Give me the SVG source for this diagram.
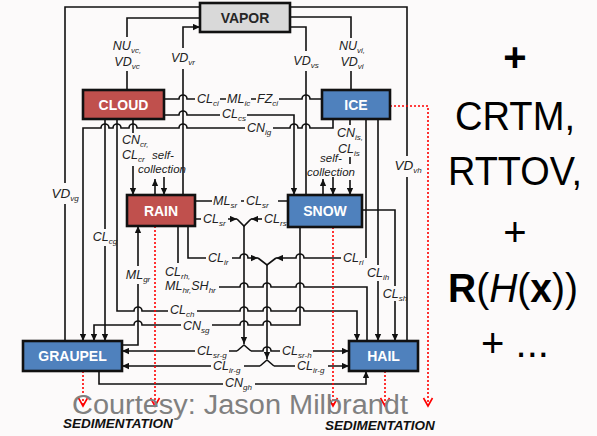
<svg xmlns="http://www.w3.org/2000/svg" width="597" height="436" viewBox="0 0 597 436">
<defs>
<marker id="ar" viewBox="0 0 10 10" refX="10" refY="5" markerWidth="8" markerHeight="7" markerUnits="userSpaceOnUse" orient="auto"><path d="M0,0.5 L10,5 L0,9.5 Z" fill="#111"/></marker>
</defs>
<style>
.c{fill:none;stroke:#111;stroke-width:1.6}
.r{fill:none;stroke:#f00;stroke-width:1.6;stroke-dasharray:2 2}
.rv{fill:none;stroke:#f00;stroke-width:1.6}
.box{stroke:#111;stroke-width:2.6}
.nt{font-family:"Liberation Sans",Arial,sans-serif;font-weight:bold;font-size:14px;fill:#fff;text-anchor:middle}
.lb{font-family:"Liberation Sans",Arial,sans-serif;font-style:italic;font-size:12.5px;fill:#222}
.s{font-size:8px}
.m{text-anchor:middle}
.sed{font-family:"Liberation Sans",Arial,sans-serif;font-style:italic;font-weight:bold;font-size:13.5px;fill:#111}
.big{font-family:"Liberation Sans",Arial,sans-serif;font-size:40px;fill:#000;text-anchor:middle}
</style>
<rect width="597" height="436" fill="#fcfafa"/>

<g id="connectors">
<path class="c" d="M65,341 V204 M65,183 V7 H200"/>
<path class="c" d="M127,90 V71 M127,37 V18 H200"/>
<path class="c" d="M183,195 V69 M183,48 V27 H200" marker-end="url(#ar)"/>
<path class="c" d="M290,7 H407 V156 M407,177 V341"/>
<path class="c" d="M290,17 H351 V38 M351,71 V90"/>
<path class="c" d="M290,27 H306 V51 M306,71 V195"/>
<path class="c" d="M164,99 H179 A4,4 0 0 1 187,99 H195 M220,99 H226 M251,99 H256 M279,99 H302 A4,4 0 0 1 310,99 H322"/>
<path class="c" d="M164,115 H179 A4,4 0 0 1 187,115 H220 M247,115 H294 V195" marker-end="url(#ar)"/>
<path class="c" d="M333,119 V128 H310 A4,4 0 0 0 302,128 H298 A4,4 0 0 0 290,128 H273 M245,128 H187 A4,4 0 0 0 179,128 H137 A4,4 0 0 0 129,128 H121 A4,4 0 0 0 113,128 H109 A4,4 0 0 0 101,128 H83 V341" marker-end="url(#ar)"/>
<path class="c" d="M105,119 V229 M105,246 V341" marker-end="url(#ar)"/>
<path class="c" d="M117,119 V311 H134 A4,4 0 0 1 142,311 H168 M197,311 H240 A4,4 0 0 1 248,311 H263 A4,4 0 0 1 271,311 H296 A4,4 0 0 1 304,311 H357 V341" marker-end="url(#ar)"/>
<path class="c" d="M133,119 V133 M133,166 V195" marker-end="url(#ar)"/>
<path class="c" d="M155,195 V179" marker-end="url(#ar)"/>
<path class="c" d="M164,177 V195" marker-end="url(#ar)"/>
<path class="c" d="M323,195 V179" marker-end="url(#ar)"/>
<path class="c" d="M333,177 V195" marker-end="url(#ar)"/>
<path class="c" d="M350,119 V125 M350,157 V164 M350,180 V195" marker-end="url(#ar)"/>
<path class="c" d="M195,201 H212 M241,201 H244 M278,201 H288"/>
<path class="c" d="M195,219 H201 M228,219 H237" marker-end="url(#ar)"/>
<path class="c" d="M262,219 H251" marker-end="url(#ar)"/>
<path class="c" d="M237,219 L244,226 L251,219"/>
<path class="c" d="M244,226 V344" marker-end="url(#ar)"/>
<path class="c" d="M237,351 L244,345 L251,351"/>
<path class="c" d="M237,351 H229 M195,351 H122" marker-end="url(#ar)"/>
<path class="c" d="M251,351 H263 A4,4 0 0 1 271,351 H280 M313,351 H349" marker-end="url(#ar)"/>
<path class="c" d="M188,226 V258 H206 M232,258 H240 A4,4 0 0 1 248,258 H258" marker-end="url(#ar)"/>
<path class="c" d="M366,119 V258"/>
<path class="c" d="M341,258 H304 A4,4 0 0 0 296,258 H276" marker-end="url(#ar)"/>
<path class="c" d="M258,258 L267,265 L276,258"/>
<path class="c" d="M267,265 V359" marker-end="url(#ar)"/>
<path class="c" d="M260,366 L267,360 L274,366"/>
<path class="c" d="M260,366 H244 M211,366 H122" marker-end="url(#ar)"/>
<path class="c" d="M274,366 H295 M328,366 H349" marker-end="url(#ar)"/>
<path class="c" d="M178,226 V263 M219,287 H240 A4,4 0 0 1 248,287 H263 A4,4 0 0 1 271,287 H296 A4,4 0 0 1 304,287 H367 V341"/>
<path class="c" d="M122,345 H138 V284 M138,266 V226" marker-end="url(#ar)"/>
<path class="c" d="M300,227 V325 H271 A4,4 0 0 0 263,325 H248 A4,4 0 0 0 240,325 H212 M181,325 H142 A4,4 0 0 0 134,325 H94 V341" marker-end="url(#ar)"/>
<path class="c" d="M378,119 V265 M378,281 V341" marker-end="url(#ar)"/>
<path class="c" d="M362,210 H395 V286 M395,301 V341" marker-end="url(#ar)"/>
<path class="c" d="M99,371 V384 H223 M255,384 H366 V371" marker-end="url(#ar)"/>
<path class="r" d="M390,106 H428 V405"/>
<path class="r" d="M155,226 V405"/>
<path class="r" d="M83,371 V405"/>
<path class="r" d="M333,227 V405"/>
<path class="r" d="M385,371 V405"/>
<path class="rv" d="M423.5,398 L428,406 L432.5,398 M150.5,398 L155,406 L159.5,398 M78.5,398 L83,406 L87.5,398 M328.5,398 L333,406 L337.5,398 M380.5,398 L385,406 L389.5,398"/>
</g>

<g id="labels">
<text class="lb m" x="127" y="50">NU<tspan class="s" dy="3">vc,</tspan></text>
<text class="lb m" x="127" y="66">VD<tspan class="s" dy="3">vc</tspan></text>
<text class="lb m" x="183" y="62">VD<tspan class="s" dy="3">vr</tspan></text>
<text class="lb m" x="306" y="65">VD<tspan class="s" dy="3">vs</tspan></text>
<text class="lb m" x="352" y="50">NU<tspan class="s" dy="3">vi,</tspan></text>
<text class="lb m" x="352" y="66">VD<tspan class="s" dy="3">vi</tspan></text>
<text class="lb m" x="408" y="170" style="font-size:13.5px">VD<tspan class="s" dy="3">vh</tspan></text>
<text class="lb m" x="65" y="198" style="font-size:13.5px">VD<tspan class="s" dy="3">vg</tspan></text>
<text class="lb" x="197" y="103">CL<tspan class="s" dy="3">ci</tspan></text>
<text class="lb" x="227" y="103">ML<tspan class="s" dy="3">ic</tspan></text>
<text class="lb" x="257" y="103">FZ<tspan class="s" dy="3">ci</tspan></text>
<text class="lb" x="222" y="118">CL<tspan class="s" dy="3">cs</tspan></text>
<text class="lb" x="247" y="132">CN<tspan class="s" dy="3">ig</tspan></text>
<text class="lb" x="122" y="144">CN<tspan class="s" dy="3">cr,</tspan></text>
<text class="lb" x="122" y="159">CL<tspan class="s" dy="3">cr</tspan></text>
<text class="lb" x="152" y="159" style="font-size:11.5px">self-</text>
<text class="lb" x="138" y="173" style="font-size:11.5px">collection</text>
<text class="lb" x="337" y="137">CN<tspan class="s" dy="3">is,</tspan></text>
<text class="lb" x="338" y="153">CL<tspan class="s" dy="3">is</tspan></text>
<text class="lb" x="320" y="162" style="font-size:11.5px">self-</text>
<text class="lb" x="307" y="176" style="font-size:11.5px">collection</text>
<text class="lb" x="213" y="205">ML<tspan class="s" dy="3">sr</tspan></text>
<text class="lb" x="246" y="205">CL<tspan class="s" dy="3">sr</tspan></text>
<text class="lb" x="203" y="223">CL<tspan class="s" dy="3">sr</tspan></text>
<text class="lb" x="264" y="223">CL<tspan class="s" dy="3">rs</tspan></text>
<text class="lb" x="208" y="262">CL<tspan class="s" dy="3">ir</tspan></text>
<text class="lb" x="343" y="262">CL<tspan class="s" dy="3">ri</tspan></text>
<text class="lb m" x="105" y="241">CL<tspan class="s" dy="3">cg</tspan></text>
<text class="lb" x="165" y="276">CL<tspan class="s" dy="3">rh,</tspan></text>
<text class="lb" x="165" y="290">ML<tspan class="s" dy="3">hr,</tspan><tspan dy="-3">SH</tspan><tspan class="s" dy="3">hr</tspan></text>
<text class="lb m" x="138" y="279">ML<tspan class="s" dy="3">gr</tspan></text>
<text class="lb m" x="378" y="277">CL<tspan class="s" dy="3">ih</tspan></text>
<text class="lb m" x="395" y="298">CL<tspan class="s" dy="3">sh</tspan></text>
<text class="lb" x="170" y="314">CL<tspan class="s" dy="2.5">ch</tspan></text>
<text class="lb" x="183" y="330">CN<tspan class="s" dy="2.5">sg</tspan></text>
<text class="lb" x="197" y="355">CL<tspan class="s" dy="3">sr-g</tspan></text>
<text class="lb" x="282" y="355">CL<tspan class="s" dy="3">sr-h</tspan></text>
<text class="lb" x="213" y="370">CL<tspan class="s" dy="3">ir-g</tspan></text>
<text class="lb" x="297" y="370">CL<tspan class="s" dy="3">ir-g</tspan></text>
<text class="lb" x="225" y="387">CN<tspan class="s" dy="2.5">gh</tspan></text>
<text class="sed" x="63" y="428">SEDIMENTATION</text>
<text class="sed" x="325" y="430">SEDIMENTATION</text>
</g>

<g id="vapor"><rect class="box" x="200" y="3" width="90" height="29" fill="#d9d9d9"/><text class="nt" x="245" y="23" style="fill:#262626">VAPOR</text></g>
<g id="cloud"><rect class="box" x="83" y="90" width="81" height="29" fill="#c0504d"/><text class="nt" x="123.5" y="110">CLOUD</text></g>
<g id="ice"><rect class="box" x="322" y="90" width="68" height="29" fill="#4f81bd"/><text class="nt" x="356" y="110">ICE</text></g>
<g id="rain"><rect class="box" x="127" y="195" width="68" height="31" fill="#c0504d"/><text class="nt" x="161" y="216">RAIN</text></g>
<g id="snow"><rect class="box" x="288" y="195" width="74" height="32" fill="#4f81bd"/><text class="nt" x="325" y="216">SNOW</text></g>
<g id="graupel"><rect class="box" x="23" y="341" width="99" height="30" fill="#4f81bd"/><text class="nt" x="72.5" y="361">GRAUPEL</text></g>
<g id="hail"><rect class="box" x="349" y="341" width="69" height="30" fill="#4f81bd"/><text class="nt" x="383.5" y="361">HAIL</text></g>

<text x="72" y="414" font-family="Liberation Sans, Arial, sans-serif" font-size="27" fill="#808080" textLength="336" lengthAdjust="spacingAndGlyphs">Courtesy: Jason Milbrandt</text>

<g id="notes">
<text class="big" x="515" y="71" font-weight="bold">+</text>
<text class="big" x="515" y="130" textLength="120" lengthAdjust="spacingAndGlyphs">CRTM,</text>
<text class="big" x="515" y="185" textLength="134" lengthAdjust="spacingAndGlyphs">RTTOV,</text>
<text class="big" x="515" y="246">+</text>
<text class="big" x="513" y="302" textLength="130" lengthAdjust="spacingAndGlyphs"><tspan font-weight="bold">R</tspan>(<tspan font-style="italic">H</tspan>(<tspan font-weight="bold">x</tspan>))</text>
<text class="big" x="515" y="357">+ ...</text>
</g>
</svg>
